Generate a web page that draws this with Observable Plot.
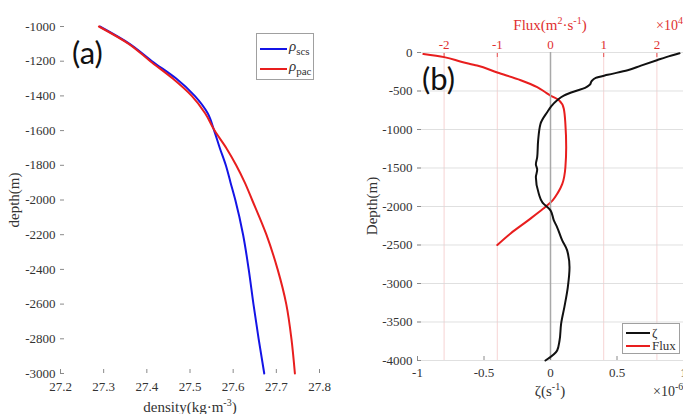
<!DOCTYPE html>
<html><head><meta charset="utf-8">
<script src="https://cdn.jsdelivr.net/npm/d3@7"></script>
<script src="https://cdn.jsdelivr.net/npm/@observablehq/plot@0.6"></script>
<style>
body{margin:0;background:#fff;}
#wrap{position:relative;width:683px;height:414px;overflow:hidden;font-family:"Liberation Serif",serif;color:#333;background:#fff;}
#wrap svg, #wrap svg text{font-family:"Liberation Serif",serif !important;font-size:13px;}
.layer{position:absolute;top:0;}
.lbl{position:absolute;white-space:nowrap;font-size:15px;line-height:15px;}
.lbl sup{font-size:10px;vertical-align:6px;line-height:0;}
.rot{transform:translate(-50%,-50%) rotate(-90deg);}
.tag{position:absolute;font-family:Lato,"Open Sans",sans-serif;font-size:31px;line-height:31px;color:#111;}
.legend{position:absolute;background:#fff;border:1px solid #a0a0a0;box-sizing:border-box;}
.legend .row{position:absolute;left:3px;display:flex;align-items:center;white-space:nowrap;}
.legend .sw{display:inline-block;height:2px;margin-right:2px;}
</style></head>
<body><div id="wrap"></div>
<script>
// ---------- Panel (a): density profiles ----------
const densityDepth = [-1000,-1100,-1200,-1300,-1400,-1500,-1600,-1700,-1800,-1900,-2000,-2200,-2400,-2600,-2800,-3000];
const rhoScs = [27.291,27.360,27.412,27.468,27.511,27.541,27.556,27.569,27.583,27.594,27.605,27.623,27.636,27.647,27.659,27.672];
const rhoPac = [27.289,27.358,27.408,27.460,27.504,27.535,27.557,27.584,27.607,27.627,27.644,27.677,27.703,27.723,27.735,27.743];
const xTicksA = [27.2,27.3,27.4,27.5,27.6,27.7,27.8];
const yTicksA = [-1000,-1200,-1400,-1600,-1800,-2000,-2200,-2400,-2600,-2800,-3000];

// ---------- Panel (b): vorticity and flux ----------
const zetaDepth = [-10,-60,-100,-170,-230,-290,-330,-370,-420,-460,-500,-560,-620,-700,-775,-925,-1145,-1360,-1450,-1520,-1620,-1835,-1950,-2050,-2180,-2270,-2440,-2570,-2790,-3050,-3300,-3520,-3740,-3870,-4000];
const zetaVal = [0.97,0.87,0.80,0.68,0.58,0.43,0.34,0.31,0.295,0.26,0.19,0.10,0.05,0.005,-0.025,-0.075,-0.093,-0.10,-0.11,-0.10,-0.11,-0.088,-0.06,0.0,0.025,0.05,0.088,0.125,0.143,0.13,0.105,0.08,0.068,0.05,-0.038];
const fluxDepth = [-20,-60,-120,-170,-260,-360,-450,-510,-560,-620,-730,-930,-1230,-1490,-1710,-1820,-1920,-2030,-2180,-2350,-2500];
const fluxVal = [-2.39,-2.0,-1.68,-1.38,-1.0,-0.56,-0.25,-0.11,0,0.16,0.25,0.28,0.295,0.28,0.22,0.14,0.04,-0.14,-0.42,-0.75,-1.0];
const xTicksZeta = [-1,-0.5,0,0.5,1];
const xTicksFlux = [-2,-1,0,1,2];
const yTicksB = [0,-500,-1000,-1500,-2000,-2500,-3000,-3500,-4000];

const wrap = document.getElementById("wrap");
const baseStyle = "font-family:'Liberation Serif',serif;font-size:13px;color:#333;background:transparent;overflow:visible;";
function place(el, left){ el.classList.add("layer"); el.style.left = left + "px"; wrap.appendChild(el); }

const scs = densityDepth.map((d,i)=>({depth:d, rho:rhoScs[i]}));
const pac = densityDepth.map((d,i)=>({depth:d, rho:rhoPac[i]}));

const plotA = Plot.plot({
  width:340, height:414, marginLeft:60, marginRight:21, marginTop:26, marginBottom:41,
  style: baseStyle,
  x:{domain:[27.2,27.8]}, y:{domain:[-3000,-1000]},
  marks:[
    Plot.axisX({ticks:xTicksA, tickFormat:d=>d.toFixed(1), tickSize:-4, tickPadding:12, stroke:"#8a8a8a", fill:"#333", line:true, label:null}),
    Plot.axisY({ticks:yTicksA, tickFormat:d=>String(d), tickSize:-4, tickPadding:9, stroke:"#8a8a8a", fill:"#333", line:true, label:null}),
    Plot.line(scs, {x:"rho", y:"depth", stroke:"#1414e6", strokeWidth:2, curve:"monotone-y"}),
    Plot.line(pac, {x:"rho", y:"depth", stroke:"#e81e1e", strokeWidth:2, curve:"monotone-y"})
  ]
});
place(plotA, 0);

const flux = fluxDepth.map((d,i)=>({depth:d, f:fluxVal[i]}));
const zeta = zetaDepth.map((d,i)=>({depth:d, z:zetaVal[i]}));

const plotFlux = Plot.plot({
  width:343, height:414, marginLeft:77, marginRight:0, marginTop:52, marginBottom:54,
  style: baseStyle,
  x:{domain:[-2.5,2.5]}, y:{domain:[-4000,0], axis:null},
  marks:[
    Plot.gridX({ticks:xTicksFlux, stroke:"#f0b8b8", strokeOpacity:0.6}),
    Plot.gridY({ticks:yTicksB, stroke:"#d8d8d8", strokeOpacity:0.8}),
    Plot.axisX({anchor:"top", ticks:xTicksFlux, tickFormat:d=>String(d), tickSize:-4, tickPadding:8, stroke:"#e85050", fill:"#e03030", line:true, label:null}),
    Plot.line(flux, {x:"f", y:"depth", stroke:"#e81e1e", strokeWidth:2, curve:"monotone-y"})
  ]
});
place(plotFlux, 340);

const plotZeta = Plot.plot({
  width:343, height:414, marginLeft:77, marginRight:0, marginTop:52, marginBottom:54,
  style: baseStyle,
  x:{domain:[-1,1]}, y:{domain:[-4000,0]},
  marks:[
    Plot.ruleX([0], {stroke:"#a8a8a8", strokeWidth:1.5}),
    Plot.axisX({ticks:xTicksZeta, tickFormat:d=>String(d), tickSize:-4, tickPadding:11, stroke:"#8a8a8a", fill:"#333", line:true, label:null}),
    Plot.axisY({ticks:yTicksB, tickFormat:d=>String(d), tickSize:-4, tickPadding:9, stroke:"#8a8a8a", fill:"#333", line:true, label:null}),
    Plot.line(zeta, {x:"z", y:"depth", stroke:"#111", strokeWidth:2, curve:"monotone-y"})
  ]
});
place(plotZeta, 340);

// ---------- labels ----------
function label(html, x, y, opts={}){
  const d = document.createElement("div");
  d.className = "lbl" + (opts.rot ? " rot" : "");
  d.innerHTML = html;
  d.style.left = x + "px"; d.style.top = y + "px";
  if (opts.color) d.style.color = opts.color;
  if (opts.size) d.style.fontSize = opts.size + "px";
  if (opts.center && !opts.rot) d.style.transform = "translateX(-50%)";
  wrap.appendChild(d);
  return d;
}
label("depth(m)", 14, 200, {rot:true});
label("density(kg·m<sup>-3</sup>)", 190, 400, {center:true});
label("Depth(m)", 372, 206, {rot:true});
label("Flux(m<sup>2</sup>·s<sup>-1</sup>)", 550, 18, {center:true, color:"#e03030"});
label("×10<sup>4</sup>", 656, 18, {color:"#e03030", size:14});
label("ζ(s<sup>-1</sup>)", 550, 384, {center:true});
label("×10<sup>-6</sup>", 653, 384, {size:14});

const ta = document.createElement("div"); ta.className="tag"; ta.textContent="(a)"; ta.style.left="72px"; ta.style.top="37px"; wrap.appendChild(ta);
const tb = document.createElement("div"); tb.className="tag"; tb.textContent="(b)"; tb.style.left="422px"; tb.style.top="63px"; wrap.appendChild(tb);

// ---------- legends ----------
function legend(x, y, w, h, items){
  const L = document.createElement("div"); L.className="legend";
  Object.assign(L.style, {left:x+"px", top:y+"px", width:w+"px", height:h+"px"});
  items.forEach((it)=>{
    const r = document.createElement("div"); r.className="row";
    r.style.top = it.top + "px";
    r.innerHTML = `<span class="sw" style="width:${it.sw}px;background:${it.color}"></span><span style="font-size:${it.fs}px;line-height:${it.lh}px;color:#333">${it.html}</span>`;
    L.appendChild(r);
  });
  wrap.appendChild(L);
}
legend(256, 33, 58, 47, [
  {color:"#1414e6", sw:27, fs:15, lh:15, top:5, html:"<i>ρ</i><sub style='font-size:11px'>scs</sub>"},
  {color:"#e81e1e", sw:27, fs:15, lh:15, top:25, html:"<i>ρ</i><sub style='font-size:11px'>pac</sub>"}
]);
legend(622, 323, 58, 31, [
  {color:"#111", sw:24, fs:13, lh:12, top:3, html:"ζ"},
  {color:"#e81e1e", sw:24, fs:13, lh:12, top:16, html:"Flux"}
]);
</script></body></html>
